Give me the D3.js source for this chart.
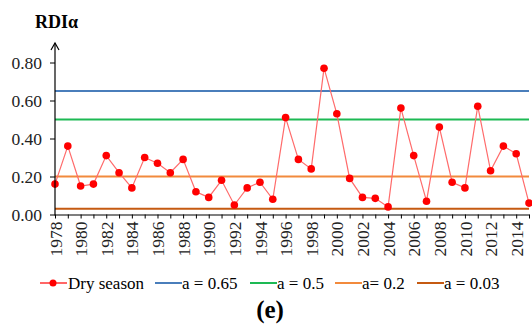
<!DOCTYPE html>
<html>
<head>
<meta charset="utf-8">
<script src="https://cdn.jsdelivr.net/npm/d3@7"></script>
<style>
  body { margin: 0; background: #fff; }
  #chart text { font-family: "Liberation Serif", serif !important; }
</style>
</head>
<body>
<svg id="chart" width="532" height="325"></svg>
<script>
// 연도 & 건기 RDI 값
var years = d3.range(1978, 2016);
var drySeason = [0.16, 0.36, 0.15, 0.16, 0.31, 0.22, 0.14, 0.30, 0.27, 0.22,
                 0.29, 0.12, 0.09, 0.18, 0.05, 0.14, 0.17, 0.08, 0.51, 0.29,
                 0.24, 0.77, 0.53, 0.19, 0.09, 0.085, 0.04, 0.56, 0.31, 0.07,
                 0.46, 0.17, 0.14, 0.57, 0.23, 0.36, 0.32, 0.06];
var thresholdValues = [0.65, 0.5, 0.2, 0.03];
var thresholdLabels = ["a = 0.65", "a = 0.5", "a= 0.2", "a = 0.03"];
var thresholdColors = ["#4a7ebb", "#1db954", "#f28a3c", "#c55a11"];
var yTicks = [0, 0.2, 0.4, 0.6, 0.8];

var FONT = "Liberation Serif";

var svg = d3.select("#chart");
var plotLeft = 55, plotRight = 529, plotTop = 43, plotBottom = 214.5;

var x = d3.scalePoint()
    .domain(years)
    .range([plotLeft, plotRight]);

var y = d3.scaleLinear()
    .domain([0, 0.8])
    .range([plotBottom, 62.5]);

// 기준선
svg.selectAll(".thr")
    .data(thresholdValues)
    .enter().append("line")
    .attr("class", "thr")
    .attr("x1", plotLeft)
    .attr("x2", plotRight)
    .attr("y1", function(d) { return y(d); })
    .attr("y2", function(d) { return y(d); })
    .style("stroke", function(d, i) { return thresholdColors[i]; })
    .style("stroke-width", 2);

// 건기 선
var seriesLine = d3.line()
    .x(function(d, i) { return x(years[i]); })
    .y(function(d) { return y(d); });

svg.append("path")
    .datum(drySeason)
    .attr("d", seriesLine)
    .style("fill", "none")
    .style("stroke", "#ff6b6b")
    .style("stroke-width", 1.2);

svg.selectAll(".dot")
    .data(drySeason)
    .enter().append("circle")
    .attr("class", "dot")
    .attr("cx", function(d, i) { return x(years[i]); })
    .attr("cy", function(d) { return y(d); })
    .attr("r", 3.8)
    .style("fill", "#ff0000");

// y축
var yAxis = svg.append("g")
    .attr("transform", "translate(" + plotLeft + ",0)")
    .call(d3.axisLeft(y).tickValues(yTicks).tickSize(5).tickSizeOuter(0)
        .tickFormat(d3.format(".2f")));
yAxis.attr("font-family", FONT);
yAxis.select(".domain").remove();
yAxis.selectAll("line").style("stroke", "#000");
yAxis.selectAll("text")
    .attr("x", -13)
    .attr("font-family", FONT)
    .style("font-size", "17.5px")
    .style("fill", "#222");

svg.append("line")
    .attr("x1", plotLeft).attr("x2", plotLeft)
    .attr("y1", plotBottom + 1).attr("y2", plotTop)
    .style("stroke", "#000")
    .style("stroke-width", 1.2);
svg.append("path")
    .attr("d", "M" + (plotLeft - 4) + "," + (plotTop + 7) + "L" + plotLeft + "," + plotTop +
               "L" + (plotLeft + 4) + "," + (plotTop + 7))
    .style("fill", "none")
    .style("stroke", "#000")
    .style("stroke-width", 1.2);

svg.append("text")
    .attr("x", 35)
    .attr("y", 28)
    .attr("font-family", FONT)
    .style("font-size", "18px")
    .style("font-weight", "bold")
    .text("RDIα");

// x축
var xAxis = svg.append("g")
    .attr("transform", "translate(0," + plotBottom + ")")
    .call(d3.axisBottom(x).tickSize(4).tickSizeOuter(0)
        .tickFormat(function(d) { return d % 2 === 0 ? d : ""; }));
xAxis.attr("font-family", FONT);
xAxis.select(".domain").style("stroke", "#000").style("stroke-width", 1.2);
xAxis.selectAll("line").style("stroke", "#000");
xAxis.selectAll("text")
    .attr("transform", "rotate(-90)")
    .attr("x", -7)
    .attr("y", 0)
    .attr("dy", "0.35em")
    .attr("font-family", FONT)
    .style("text-anchor", "end")
    .style("font-size", "17.5px")
    .style("fill", "#222");

// 범례
var legendItems = [{ label: "Dry season", color: "#ff0000", dot: true }];
thresholdLabels.forEach(function(l, i) {
    legendItems.push({ label: l, color: thresholdColors[i], dot: false });
});
var legendX = [40, 155, 250, 335, 417];
var legend = svg.selectAll(".leg")
    .data(legendItems)
    .enter().append("g")
    .attr("class", "leg")
    .attr("transform", function(d, i) { return "translate(" + legendX[i] + ",283)"; });
legend.append("line")
    .attr("x1", 0).attr("x2", 27)
    .style("stroke", function(d) { return d.color; })
    .style("stroke-width", function(d) { return d.dot ? 1.2 : 2; });
legend.filter(function(d) { return d.dot; }).append("circle")
    .attr("cx", 13).attr("r", 3.5)
    .style("fill", "#ff0000");
legend.append("text")
    .attr("x", function(d) { return d.dot ? 28 : 27; })
    .attr("dy", "0.35em")
    .attr("font-family", FONT)
    .style("font-size", "17px")
    .text(function(d) { return d.label; });

svg.append("text")
    .attr("x", 270)
    .attr("y", 318)
    .attr("font-family", FONT)
    .style("text-anchor", "middle")
    .style("font-size", "25px")
    .style("font-weight", "bold")
    .text("(e)");
</script>
</body>
</html>
